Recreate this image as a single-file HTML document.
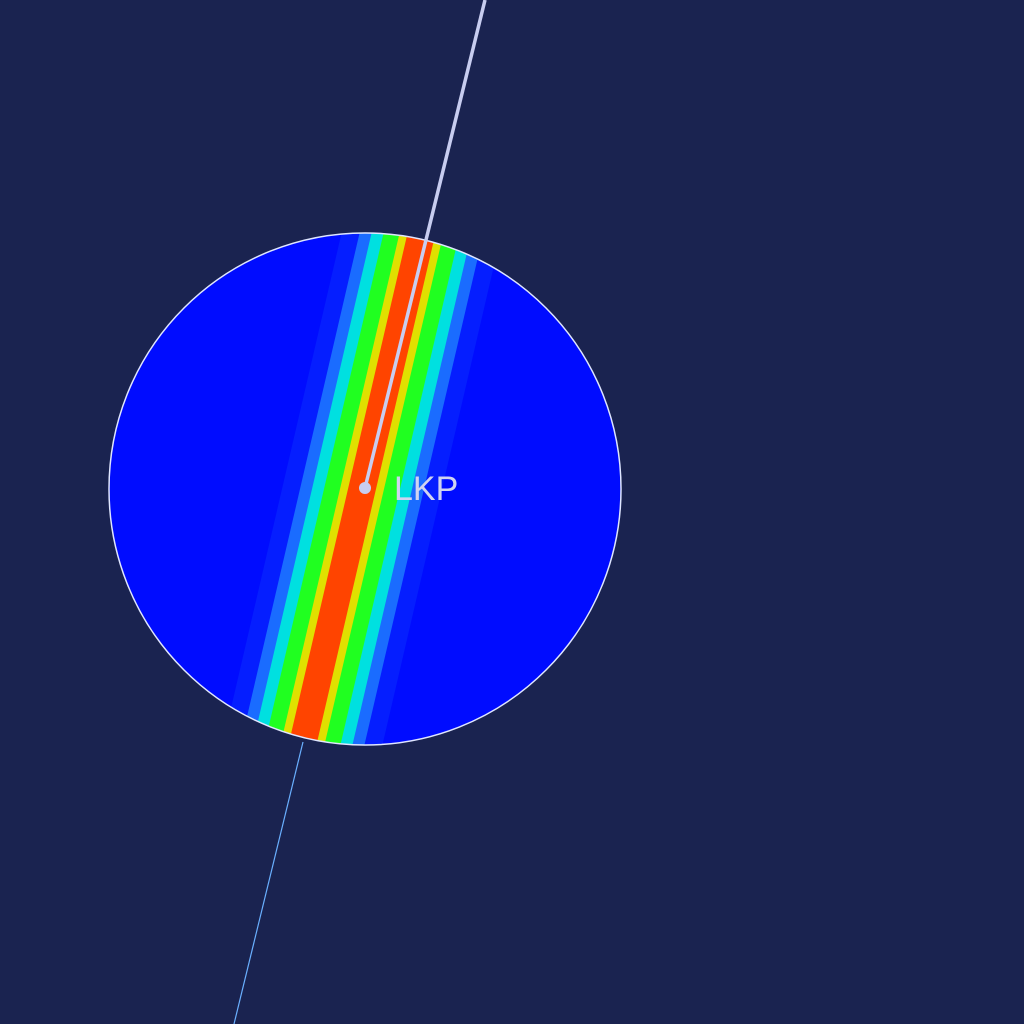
<!DOCTYPE html>
<html><head><meta charset="utf-8"><style>
html,body{margin:0;padding:0;background:#1a2350;}
svg{display:block;}
</style></head><body>
<svg width="1024" height="1024" viewBox="0 0 1024 1024">
<rect width="1024" height="1024" fill="#1a2350"/>
<defs><clipPath id="cc"><circle cx="365" cy="489" r="256"/></clipPath></defs>
<circle cx="365" cy="489" r="256" fill="#000cff"/>
<g clip-path="url(#cc)">
<g id="bands" transform="translate(362,489) skewX(-13.1)"></g>
</g>
<circle cx="365" cy="489" r="256" fill="none" stroke="#dfe6ff" stroke-width="1.5"/>
<line x1="485" y1="0" x2="365" y2="488" stroke="#c8cdf0" stroke-width="3.5"/>
<line x1="303" y1="742" x2="234" y2="1024" stroke="#6ab0ff" stroke-width="1.2"/>
<circle cx="365" cy="488" r="6" fill="#c8cdf0"/>
<text x="394" y="500" font-family="'Liberation Sans', sans-serif" font-size="34" fill="#d0d4f0">LKP</text>
</svg>
<script>
const bandHalfWidths=[80,62,50,38,22,14];
const bandColors=["#0a30ff","#1a6cff","#00e0e0","#20ff20","#e0e000","#ff4400"];
const g=document.getElementById('bands');
bandHalfWidths.forEach((w,i)=>{
  const r=document.createElementNS('http://www.w3.org/2000/svg','rect');
  r.setAttribute('x',-w);r.setAttribute('y',-300);
  r.setAttribute('width',2*w);r.setAttribute('height',600);
  r.setAttribute('fill',bandColors[i]);
  if(i===0)r.setAttribute('opacity','0.5');
  
  
  g.appendChild(r);
});
</script>
</body></html>
